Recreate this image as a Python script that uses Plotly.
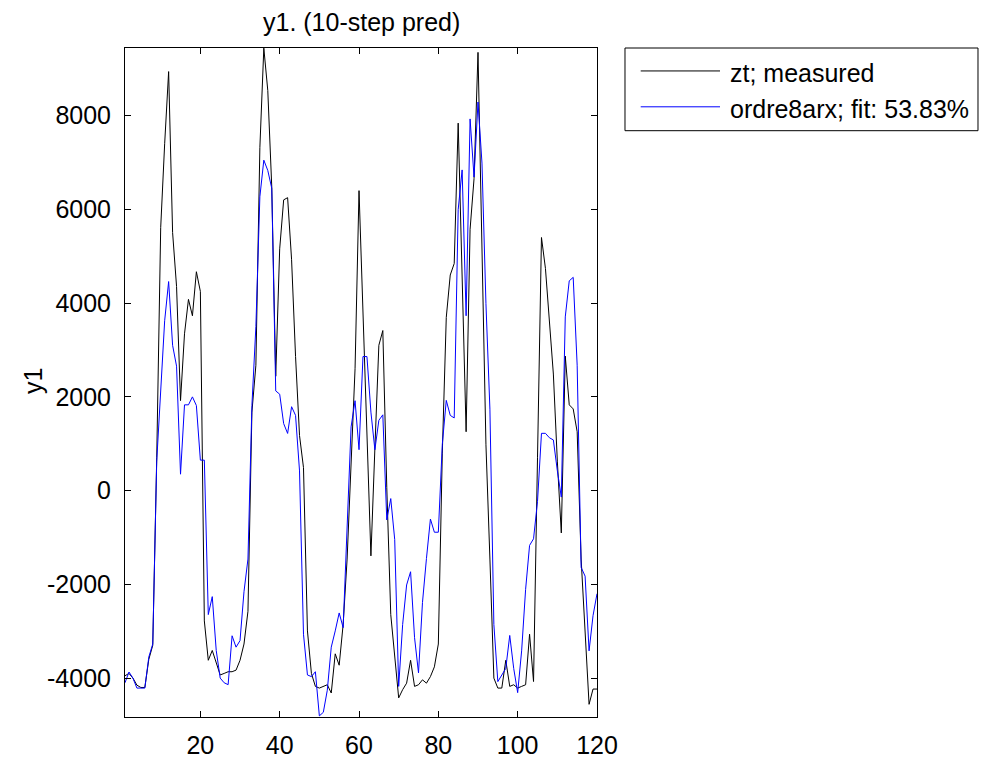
import plotly.graph_objects as go

# ---- data ----
steps = list(range(1, 121))

zt_measured = [
    -3950, -3900, -4000, -4150, -4200, -4200, -3600, -3300, 700, 5610,
    7400, 8940, 5505, 4355, 1920, 3345, 4080, 3730, 4670, 4250,
    -2780, -3620, -3410, -3655, -3933, -3900, -3864, -3864, -3830, -3620,
    -3273, -2575, 1675, 2675, 7317, 9440, 8535, 6480, 2440, 5158,
    6203, 6250, 4925, 2860, 1175, 490, -2993, -3900, -4177, -4213,
    -4177, -4142, -4318, -3482, -3725, -2855, -1460, 629, 2600, 6400,
    3800, 1200, -1392, 900, 3100, 3415, 71, -2645, -3482, -4422,
    -4247, -4108, -3620, -4177, -4142, -4037, -4108, -3968, -3760, -3273,
    800, 3695, 4600, 4845, 7840, 4500, 1256, 5576, 6654, 9350,
    5160, 978, -1460, -4000, -4213, -4213, -3620, -4177, -4142, -4213,
    -4177, -4142, -3064, -4073, 700, 5400, 4740, 3695, 2487, 629,
    -903, 2870, 1830, 1743, 1256, -1460, -3064, -4560, -4234, -4234,
]

ordre8arx = [
    -4100, -3870, -4000, -4213, -4213, -4213, -3551, -3273, 629, 2100,
    3624, 4460, 3100, 2655, 350, 1830, 1830, 2000, 1815, 650,
    650, -2645, -2262, -3410, -4000, -4100, -4140, -3097, -3340, -3200,
    -2157, -1460, 1815, 3500, 6270, 7050, 6830, 6450, 2127, 2057,
    1430, 1220, 1790, 1605, 420, -3064, -3933, -3968, -3864, -4806,
    -4730, -4260, -3340, -2993, -2610, -2923, -800, 1360, 1918, 873,
    2860, 2860, 1675, 873, 1500, 1617, -625, -170, -1043, -4177,
    -2856, -2013, -1731, -3138, -3888, -2388, -1450, -606, -888, -888,
    988, 1925, 1605, 1550, 5994, 6842, 3730, 7930, 6690, 8290,
    6988, 3988, 1738, -2856, -4075, -3934, -3794, -3090, -3794, -4310,
    -3419, -2106, -1169, -1028, -231, 1222, 1222, 1128, 1081, 425,
    -138, 3706, 4475, 4550, 2675, -1638, -1825, -3419, -2669, -2200,
]

x_ticks = [20, 40, 60, 80, 100, 120]
y_ticks = [-4000, -2000, 0, 2000, 4000, 6000, 8000]
y_tick_labels = ["-4000", "-2000", "0", "2000", "4000", "6000", "8000"]

series_names = ["zt; measured", "ordre8arx; fit: 53.83%"]
series_colors = ["#000000", "#0000FF"]

FONT = "Liberation Sans, Arial, Helvetica, sans-serif"
FS = 25

fig = go.Figure()
for name, vals, col in zip(series_names, [zt_measured, ordre8arx], series_colors):
    fig.add_trace(go.Scatter(x=steps, y=vals, mode="lines", name=name,
                             line=dict(color=col, width=1), showlegend=False))

axis_common = dict(showline=True, linecolor="black", linewidth=1, mirror="ticks",
                   ticks="inside", ticklen=6, tickwidth=1, tickcolor="black",
                   showgrid=False, zeroline=False,
                   tickfont=dict(family=FONT, size=FS, color="black"))

fig.update_xaxes(range=[1, 120], tickvals=x_ticks, ticklabelstandoff=6, **axis_common)
fig.update_yaxes(range=[-4830, 9443], tickvals=y_ticks, ticktext=y_tick_labels,
                 ticklabelstandoff=8, **axis_common)

# custom MATLAB-style legend
shapes = [dict(type="rect", xref="paper", yref="paper", x0=1.0593, x1=1.8072,
               y0=0.8764, y1=1.0, line=dict(color="black", width=1), fillcolor="white")]
annots = []
for name, col, ly in zip(series_names, series_colors, [0.9657, 0.9121]):
    shapes.append(dict(type="line", xref="paper", yref="paper", x0=1.0926, x1=1.2606,
                       y0=ly, y1=ly, line=dict(color=col, width=1)))
    annots.append(dict(text=name, xref="paper", yref="paper", x=1.2782, y=ly,
                       xanchor="left", yanchor="middle", yshift=-2, showarrow=False,
                       font=dict(family=FONT, size=FS, color="black")))

annots.append(dict(text="y1. (10-step pred)", xref="paper", yref="paper", x=0.5,
                   y=(731 - 22) / 682.7, xanchor="center", yanchor="middle",
                   showarrow=False, font=dict(family=FONT, size=FS, color="black")))
annots.append(dict(text="y1", xref="paper", yref="paper", x=(33 - 125) / 472,
                   y=0.5024, xanchor="center", yanchor="middle", textangle=-90,
                   showarrow=False, font=dict(family=FONT, size=FS, color="black")))

fig.update_layout(width=982, height=771, margin=dict(l=125, r=385, t=48, b=40),
                  paper_bgcolor="white", plot_bgcolor="white",
                  shapes=shapes, annotations=annots, showlegend=False)

fig.write_html("out.html")
